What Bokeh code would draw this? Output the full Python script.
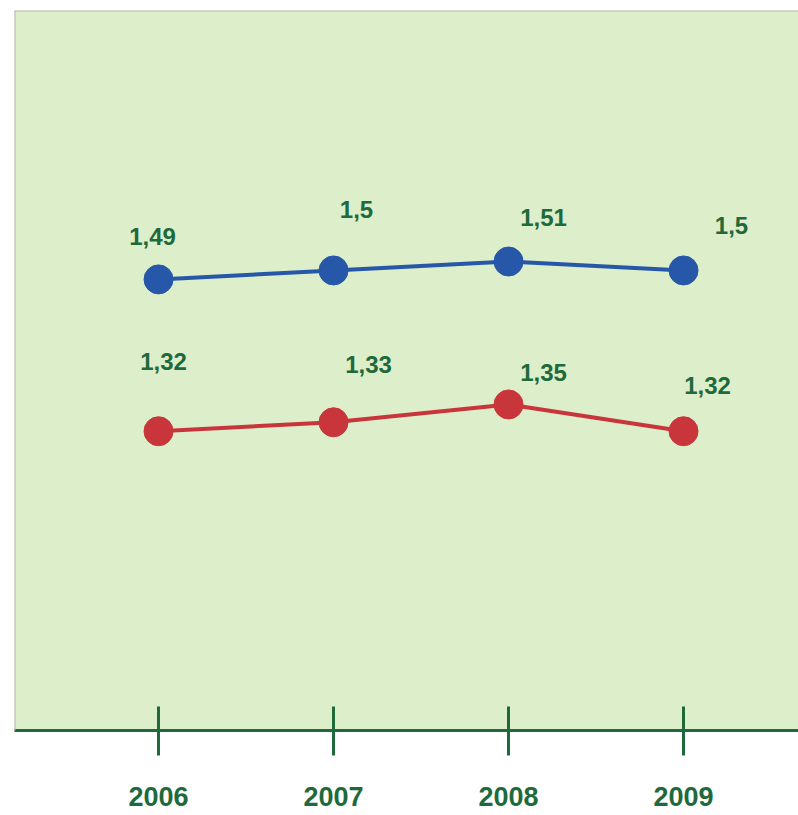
from bokeh.plotting import figure
from bokeh.models import ColumnDataSource, Span, FixedTicker, LabelSet
from bokeh.core.properties import value
from bokeh.embed import file_html
from bokeh.resources import INLINE

years = [2006, 2007, 2008, 2009]
series_blue = [1.49, 1.50, 1.51, 1.50]
series_red = [1.32, 1.33, 1.35, 1.32]
labels_blue = ["1,49", "1,5", "1,51", "1,5"]
labels_red = ["1,32", "1,33", "1,35", "1,32"]

# label placement (pixel offsets relative to each point, positive = up)
blue_dx = [-6, 23, 35, 48]
blue_dy = [43, 61, 44, 45]
red_dx = [5, 35, 35, 24]
red_dy = [70, 58, 32, 46]

BG = "#ddeeca"
GREEN = "#1e6a3c"
BLUE = "#2657a8"
RED = "#c8363b"

p = figure(width=798, height=815, output_backend="svg", toolbar_location=None,
           x_range=(2005.177, 2009.657), y_range=(0.985, 1.791),
           min_border_left=14, min_border_right=0, min_border_top=10, min_border_bottom=85)
p.background_fill_color = BG
p.border_fill_color = "white"
p.outline_line_color = None
p.grid.visible = False
p.yaxis.visible = False

xa = p.xaxis[0]
xa.ticker = FixedTicker(ticks=years)
xa.major_label_overrides = {y: str(y) for y in years}
xa.axis_line_color = GREEN
xa.axis_line_width = 3
xa.major_tick_line_color = GREEN
xa.major_tick_line_width = 3
xa.major_tick_in = 24
xa.major_tick_out = 25
xa.minor_tick_line_color = None
xa.major_label_standoff = 31
xa.major_label_text_font = "Liberation Sans"
xa.major_label_text_font_style = "bold"
xa.major_label_text_font_size = "27px"
xa.major_label_text_color = GREEN

p.add_layout(Span(location=p.y_range.end, dimension="width", line_color="#b8b8b8", line_width=2))
p.add_layout(Span(location=p.x_range.start, dimension="height", line_color="#b8b8b8", line_width=2))

src_b = ColumnDataSource(dict(x=years, y=series_blue, t=labels_blue, dx=blue_dx, dy=blue_dy))
src_r = ColumnDataSource(dict(x=years, y=series_red, t=labels_red, dx=red_dx, dy=red_dy))

p.line("x", "y", source=src_b, line_color=BLUE, line_width=4)
p.scatter("x", "y", source=src_b, size=29, fill_color=BLUE, line_color=BLUE)
p.line("x", "y", source=src_r, line_color=RED, line_width=4)
p.scatter("x", "y", source=src_r, size=29, fill_color=RED, line_color=RED)

for src in (src_b, src_r):
    p.add_layout(LabelSet(x="x", y="y", text="t", x_offset="dx", y_offset="dy", source=src,
                          text_align="center", text_baseline="middle",
                          text_font=value("Liberation Sans"), text_font_style="bold",
                          text_font_size="24px", text_color=GREEN))

open("out.html", "w").write(file_html(p, INLINE))
